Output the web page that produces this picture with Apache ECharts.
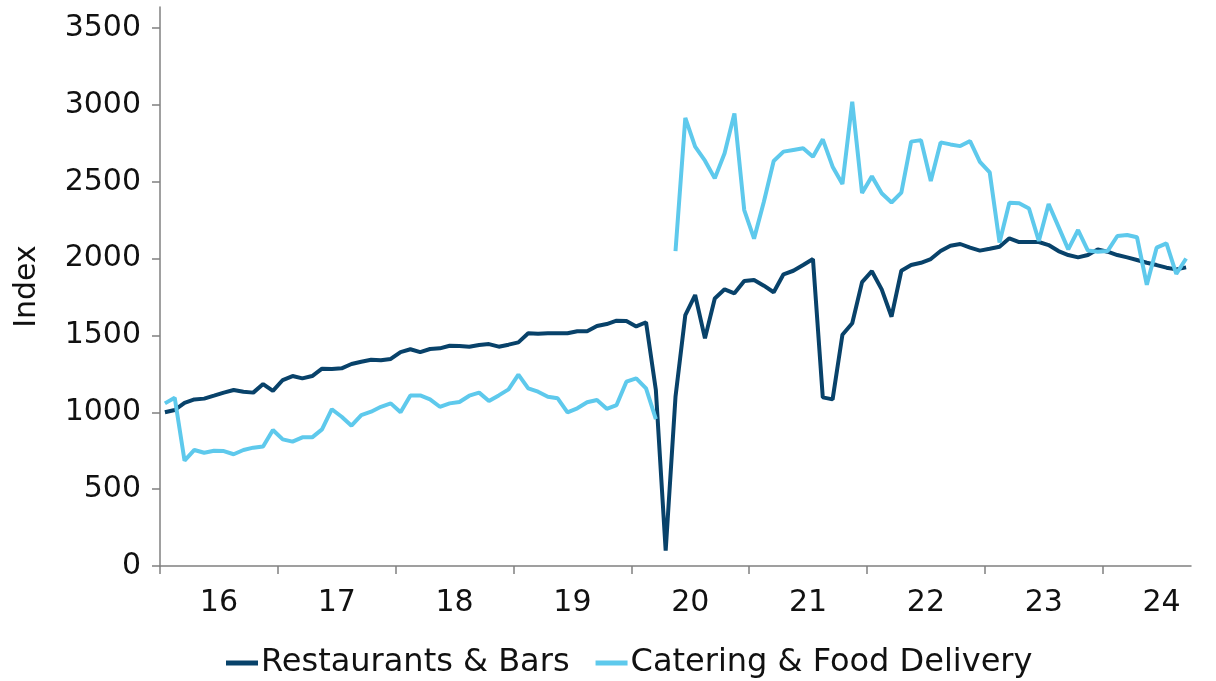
<!DOCTYPE html>
<html>
<head>
<meta charset="utf-8">
<script src="https://cdn.jsdelivr.net/npm/echarts@6/dist/echarts.min.js"></script>
<style>html,body{margin:0;padding:0;background:#fff;}#c{width:1216px;height:681px;}</style>
</head>
<body>
<div id="c"></div>
<script>
var yearLabels = ['16','17','18','19','20','21','22','23','24'];
var monthsPerYear = 12;
var monthCount = 105;
var yTicks = [0, 500, 1000, 1500, 2000, 2500, 3000, 3500];

var restaurants = [
 1000,1015,1062,1084,1089,1108,1128,1145,1134,1128,1184,1139,
 1210,1236,1221,1236,1284,1282,1286,1314,1329,1342,1338,1347,
 1392,1410,1392,1412,1416,1433,1431,1427,1438,1444,1427,1440,
 1455,1514,1511,1514,1514,1514,1527,1527,1561,1574,1596,1594,
 1559,1586,1145,100,1101,1633,1763,1481,1741,1800,1774,1854,
 1861,1824,1781,1898,1921,1958,1997,1097,1084,1505,1579,1847,
 1918,1800,1622,1921,1958,1973,1997,2049,2084,2095,2071,2052,
 2064,2077,2132,2108,2108,2108,2088,2049,2023,2008,2023,2060,
 2045,2023,2008,1991,1973,1958,1941,1930,1943
];
var catering = [
 1058,1095,685,755,737,750,748,727,755,770,777,885,
 824,809,837,837,889,1020,971,913,982,1004,1036,1058,
 1000,1110,1110,1084,1036,1058,1067,1108,1128,1073,1110,1149,
 1245,1156,1134,1101,1091,1000,1026,1065,1080,1023,1047,1199,
 1221,1156,955,null,2049,2915,2728,2637,2522,2685,2945,2316,
 2130,2370,2635,2696,2707,2718,2663,2776,2598,2485,3020,2427,
 2535,2425,2365,2429,2761,2771,2505,2756,2743,2732,2765,2630,
 2561,2105,2364,2360,2326,2115,2355,2208,2060,2186,2052,2045,
 2049,2147,2154,2139,1830,2071,2099,1900,2001
];

// month index -> centre of its month band on the time axis
function toPoints(arr) {
  return arr.map(function (v, i) { return [i + 0.5, v]; });
}
var yearStarts = yearLabels.map(function (y, i) { return i * monthsPerYear; });
var yearMids = yearLabels.map(function (y, i) { return i * monthsPerYear + monthsPerYear / 2; });

var FONT = 'DejaVu Sans';
var axisGray = '#808080';
var chart = echarts.init(document.getElementById('c'), null, {renderer: 'canvas'});
chart.setOption({
  animation: false,
  backgroundColor: '#ffffff',
  grid: {left: 160, right: 25, top: 7, bottom: 115, containLabel: false},
  legend: {
    data: ['Restaurants & Bars', 'Catering & Food Delivery'],
    left: 221, top: 642,
    icon: 'rect', itemWidth: 32, itemHeight: 5, itemGap: 26,
    textStyle: {fontFamily: FONT, fontSize: 32, color: '#111', padding: [0,0,0,-2]}
  },
  xAxis: {
    type: 'value',
    min: 0, max: monthCount,
    axisLine: {show: true, lineStyle: {color: axisGray, width: 1.5}},
    axisTick: {show: true, length: 8, lineStyle: {color: axisGray, width: 1.5}, customValues: yearStarts},
    axisLabel: {
      customValues: yearMids,
      formatter: function (v) { return yearLabels[Math.floor(v / monthsPerYear)]; },
      fontFamily: FONT, fontSize: 30, color: '#111', margin: 22
    },
    splitLine: {show: false}
  },
  yAxis: {
    type: 'value',
    min: 0, max: 3637,
    name: 'Index',
    nameLocation: 'middle',
    nameGap: 118,
    nameRotate: 90,
    nameTextStyle: {fontFamily: FONT, fontSize: 30, color: '#111'},
    axisLine: {show: true, lineStyle: {color: axisGray, width: 1.5}},
    axisTick: {show: true, length: 8, lineStyle: {color: axisGray, width: 1.5}, customValues: yTicks},
    axisLabel: {fontFamily: FONT, fontSize: 30, color: '#111', margin: 19, customValues: yTicks,
      formatter: function (v) { return String(v); }},
    splitLine: {show: false}
  },
  series: [
    {name: 'Restaurants & Bars', type: 'line', data: toPoints(restaurants), showSymbol: false, symbol: 'none',
     lineStyle: {color: '#08426a', width: 4}, itemStyle: {color: '#08426a'}, connectNulls: false},
    {name: 'Catering & Food Delivery', type: 'line', data: toPoints(catering), showSymbol: false, symbol: 'none',
     lineStyle: {color: '#5ec9ec', width: 4}, itemStyle: {color: '#5ec9ec'}, connectNulls: false}
  ]
});
</script>
</body>
</html>
